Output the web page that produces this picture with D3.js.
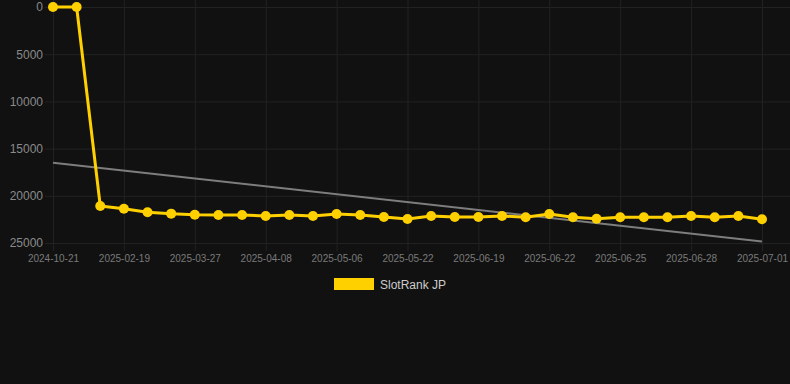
<!DOCTYPE html>
<html>
<head>
<meta charset="utf-8">
<script src="https://cdn.jsdelivr.net/npm/d3@7"></script>
<style>
  html, body { margin: 0; padding: 0; background: #111111; }
  text { font-family: "Liberation Sans", Arial, sans-serif; }
</style>
</head>
<body>
<div id="chart"></div>
<script>
// data
var dates = ["2024-10-21", "2024-10-22", "2025-02-18", "2025-02-19", "2025-03-05",
             "2025-03-18", "2025-03-27", "2025-03-31", "2025-04-04", "2025-04-08",
             "2025-04-17", "2025-04-28", "2025-05-06", "2025-05-12", "2025-05-16",
             "2025-05-22", "2025-06-02", "2025-06-12", "2025-06-19", "2025-06-20",
             "2025-06-21", "2025-06-22", "2025-06-23", "2025-06-24", "2025-06-25",
             "2025-06-26", "2025-06-27", "2025-06-28", "2025-06-29", "2025-06-30",
             "2025-07-01"];
var ranks = [0, 0, 21080, 21370, 21750, 21890, 22000, 22030, 22030, 22140,
             22030, 22140, 21930, 22030, 22240, 22460, 22140, 22240, 22240, 22140,
             22280, 21930, 22280, 22430, 22280, 22280, 22280, 22140, 22280, 22140,
             22490];
var yTicks = [0, 5000, 10000, 15000, 20000, 25000];
var seriesName = "SlotRank JP";

var width = 790, height = 384;
var svg = d3.select("#chart").append("svg")
    .attr("width", width)
    .attr("height", height);

svg.append("rect").attr("width", width).attr("height", height).attr("fill", "#111111");

var x = d3.scalePoint().domain(d3.range(dates.length)).range([53, 762]);
var y = d3.scaleLinear().domain([0, 25000]).range([7, 243]);

// every third label is shown on the axis
var shown = d3.range(0, dates.length, 3);

// grid
svg.append("g").selectAll("line").data(yTicks).join("line")
    .attr("x1", 45).attr("x2", width)
    .attr("y1", d => y(d) + 0.5).attr("y2", d => y(d) + 0.5)
    .attr("stroke", "#222222").attr("stroke-width", 1);
svg.append("g").selectAll("line").data(shown).join("line")
    .attr("x1", d => x(d) + 0.5).attr("x2", d => x(d) + 0.5)
    .attr("y1", 0).attr("y2", 251)
    .attr("stroke", "#222222").attr("stroke-width", 1);

// axes
var yAxis = svg.append("g").attr("transform", "translate(53,0)")
    .call(d3.axisLeft(y).tickValues(yTicks).tickFormat(d3.format("d")).tickSize(0).tickPadding(10));
yAxis.select(".domain").remove();
yAxis.selectAll("text").attr("fill", "#8a8a8a").style("font-size", "12px");

var xAxis = svg.append("g").attr("transform", "translate(0,251)")
    .call(d3.axisBottom(x).tickValues(shown).tickFormat(i => dates[i]).tickSize(0).tickPadding(4));
xAxis.select(".domain").remove();
xAxis.selectAll("text").attr("fill", "#7a7a7a").style("font-size", "10px");

// trend line (least squares over the series)
var n = ranks.length;
var mx = d3.mean(d3.range(n)), my = d3.mean(ranks);
var sxy = d3.sum(ranks, (v, i) => (i - mx) * (v - my));
var sxx = d3.sum(d3.range(n), i => (i - mx) * (i - mx));
var slope = sxy / sxx, icpt = my - slope * mx;
svg.append("line")
    .attr("x1", x(0)).attr("y1", y(icpt))
    .attr("x2", x(n - 1)).attr("y2", y(icpt + slope * (n - 1)))
    .attr("stroke", "#7d7d7d").attr("stroke-width", 2);

// series
var line = d3.line().x((d, i) => x(i)).y(d => y(d));
svg.append("path").datum(ranks)
    .attr("d", line)
    .attr("fill", "none")
    .attr("stroke", "#ffd000")
    .attr("stroke-width", 3)
    .attr("stroke-linejoin", "round");
svg.append("g").selectAll("circle").data(ranks).join("circle")
    .attr("cx", (d, i) => x(i))
    .attr("cy", d => y(d))
    .attr("r", 5)
    .attr("fill", "#ffd000");

// legend
svg.append("rect").attr("x", 334).attr("y", 278).attr("width", 40).attr("height", 12).attr("fill", "#ffd000");
svg.append("text").attr("x", 380).attr("y", 288.5)
    .text(seriesName)
    .attr("fill", "#cccccc").style("font-size", "12px");
</script>
</body>
</html>
